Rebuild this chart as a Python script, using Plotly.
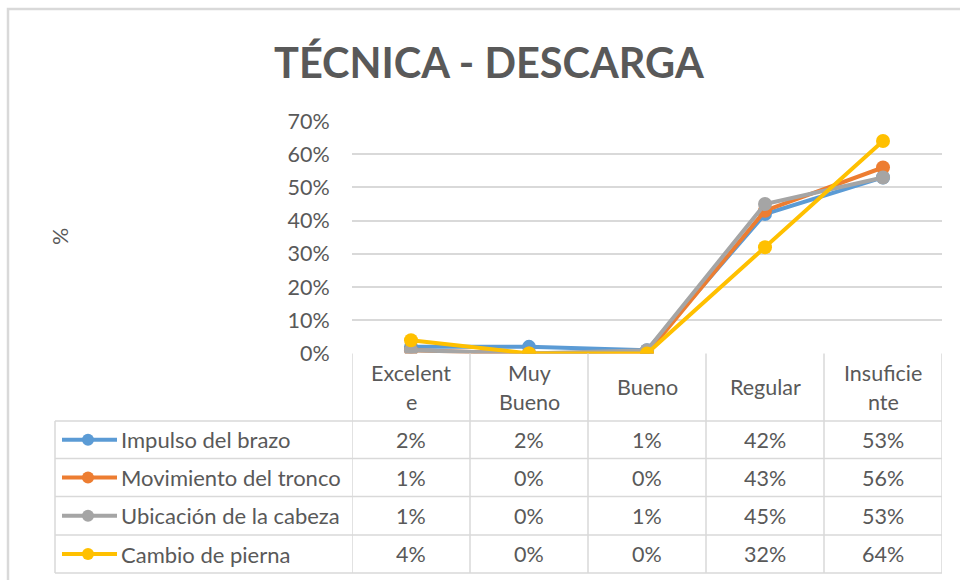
import plotly.graph_objects as go

# ---------------- data ----------------
categories = ["Excelente", "Muy Bueno", "Bueno", "Regular", "Insuficiente"]
header_lines = [["Excelent", "e"], ["Muy", "Bueno"], ["Bueno"], ["Regular"], ["Insuficie", "nte"]]
series_names = ["Impulso del brazo", "Movimiento del tronco", "Ubicación de la cabeza", "Cambio de pierna"]
impulso = [0.02, 0.02, 0.01, 0.42, 0.53]
movimiento = [0.01, 0.00, 0.00, 0.43, 0.56]
ubicacion = [0.01, 0.00, 0.01, 0.45, 0.53]
cambio = [0.04, 0.00, 0.00, 0.32, 0.64]
y_ticks = [0, 0.1, 0.2, 0.3, 0.4, 0.5, 0.6, 0.7]
title_text = "TÉCNICA - DESCARGA"
y_title = "%"

series_values = [impulso, movimiento, ubicacion, cambio]
colors = ["#5B9BD5", "#ED7D31", "#A5A5A5", "#FFC000"]

W, H = 960, 580
FONT = "Lato"
TXT = "#595959"
GRID = "#D9D9D9"
FS = 21.5


def px(x):
    return x / W


def py(y):
    return 1 - y / H


# layout positions (pixels)
plot_left, plot_right = 352, 942
plot_top, plot_bottom = 121, 353.5
table_left = 55
row_lines = [421, 458.5, 496.5, 535, 573]

fig = go.Figure()
for name, vals, col in zip(series_names, series_values, colors):
    fig.add_trace(go.Scatter(
        x=categories, y=vals, name=name, mode="lines+markers",
        line=dict(color=col, width=4),
        marker=dict(color=col, size=14),
        showlegend=False, hoverinfo="skip",
    ))

shapes = []
annotations = []

# outer chart frame
shapes.append(dict(type="rect", xref="paper", yref="paper",
                   x0=px(8), x1=px(975), y0=py(600), y1=py(9),
                   line=dict(color="#D9D9D9", width=2.5), layer="below"))

# table vertical lines (header + body), at category boundaries
for i in range(len(categories) + 1):
    shapes.append(dict(type="line", xref="x", yref="paper",
                       x0=i - 0.5, x1=i - 0.5, y0=py(row_lines[-1]), y1=py(plot_bottom),
                       line=dict(color=GRID, width=1.5)))
# legend column left edge
shapes.append(dict(type="line", xref="paper", yref="paper",
                   x0=px(table_left), x1=px(table_left), y0=py(row_lines[-1]), y1=py(row_lines[0]),
                   line=dict(color=GRID, width=1.5)))
# horizontal row lines
for yl in row_lines:
    shapes.append(dict(type="line", xref="paper", yref="paper",
                       x0=px(table_left), x1=px(plot_right), y0=py(yl), y1=py(yl),
                       line=dict(color=GRID, width=1.5)))

# header cells
header_mid = (plot_bottom + row_lines[0]) / 2
for i, lines in enumerate(header_lines):
    n = len(lines)
    for k, t in enumerate(lines):
        yy = header_mid + (k - (n - 1) / 2) * 29
        annotations.append(dict(x=categories[i], y=py(yy), xref="x", yref="paper",
                                text=t, showarrow=False, xanchor="center", yanchor="middle",
                                font=dict(family=FONT, size=FS, color=TXT)))

# body rows
for r, (name, vals, col) in enumerate(zip(series_names, series_values, colors)):
    ymid = (row_lines[r] + row_lines[r + 1]) / 2
    # legend key
    shapes.append(dict(type="line", xref="paper", yref="paper",
                       x0=px(62), x1=px(117), y0=py(ymid), y1=py(ymid),
                       line=dict(color=col, width=4)))
    shapes.append(dict(type="circle", xref="paper", yref="paper",
                       x0=px(88 - 6), x1=px(88 + 6), y0=py(ymid + 6), y1=py(ymid - 6),
                       fillcolor=col, line=dict(color=col, width=0)))
    annotations.append(dict(x=px(119), y=py(ymid), xref="paper", yref="paper",
                            text=name, showarrow=False, xanchor="left", yanchor="middle",
                            font=dict(family=FONT, size=22, color=TXT)))
    for i, v in enumerate(vals):
        annotations.append(dict(x=categories[i], y=py(ymid), xref="x", yref="paper",
                                text=f"{round(v * 100)}%", showarrow=False,
                                xanchor="center", yanchor="middle",
                                font=dict(family=FONT, size=FS, color=TXT)))

# title
annotations.append(dict(x=px(490), y=py(62), xref="paper", yref="paper",
                        text=f"<b>{title_text}</b>", showarrow=False,
                        xanchor="center", yanchor="middle",
                        font=dict(family=FONT, size=41.5, color=TXT)))
# y-axis title
annotations.append(dict(x=px(60), y=py(237), xref="paper", yref="paper",
                        text=y_title, showarrow=False, textangle=-90,
                        xanchor="center", yanchor="middle",
                        font=dict(family=FONT, size=FS, color=TXT)))

fig.update_layout(
    width=W, height=H, autosize=False,
    margin=dict(l=0, r=0, t=0, b=0, pad=0),
    paper_bgcolor="white", plot_bgcolor="white",
    shapes=shapes, annotations=annotations,
    xaxis=dict(domain=[px(plot_left), px(plot_right)], range=[-0.5, 4.5],
               type="category", categoryorder="array", categoryarray=categories,
               showticklabels=False, showgrid=False, zeroline=False, showline=False,
               fixedrange=True, automargin=False),
    yaxis=dict(domain=[py(plot_bottom), py(plot_top)], range=[0, 0.7],
               tickvals=y_ticks, tickformat=".0%",
               showgrid=True, gridcolor=GRID, gridwidth=1.5,
               zeroline=False, showline=False,
               ticks="outside", ticklen=17, tickcolor="rgba(0,0,0,0)",
               tickfont=dict(family=FONT, size=FS, color=TXT), fixedrange=True,
               automargin=False),
    showlegend=False,
)

fig.write_html("out.html", config={"responsive": False, "displayModeBar": False},
               post_script="document.body.style.margin='0';")
